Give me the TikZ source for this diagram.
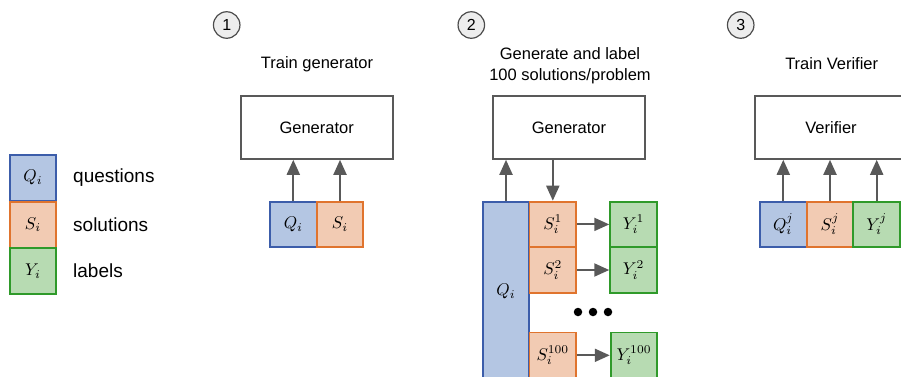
\documentclass[tikz,border=0pt]{standalone}
\usepackage{fontspec}
\usepackage{graphicx}
\setmainfont{Liberation Sans}
\usetikzlibrary{arrows.meta}
\definecolor{qfill}{HTML}{B4C6E3}
\definecolor{qdraw}{HTML}{3C5DAA}
\definecolor{sfill}{HTML}{F2CBB3}
\definecolor{sdraw}{HTML}{E0742E}
\definecolor{yfill}{HTML}{B7DBB2}
\definecolor{ydraw}{HTML}{2F9A2A}
\definecolor{arrgray}{HTML}{595959}
\newcommand{\mlab}[1]{\scalebox{1.7}{$#1$}}
\begin{document}
\begin{tikzpicture}[x=1pt,y=-1pt,
  txt/.style={font=\fontsize{16.5}{21}\selectfont, inner sep=0pt, align=center},
  legtxt/.style={font=\fontsize{19}{22}\selectfont, inner sep=0pt, anchor=west},
  cell/.style={rectangle, inner sep=0pt, minimum width=46.7pt, minimum height=45.6pt, line width=1.8pt},
  qbox/.style={cell, fill=qfill, draw=qdraw},
  sbox/.style={cell, fill=sfill, draw=sdraw},
  ybox/.style={cell, fill=yfill, draw=ydraw},
  model/.style={rectangle, draw=arrgray, line width=1.6pt, fill=white, minimum width=152pt, minimum height=63pt, inner sep=0pt, font=\fontsize{16.5}{21}\selectfont},
  numcirc/.style={circle, draw=black!70, fill=black!7, line width=1.2pt, minimum size=26.5pt, inner sep=0pt, font=\fontsize{16}{18}\selectfont},
  arr/.style={draw=arrgray, line width=2pt, -{Triangle[length=15pt,width=13pt]}},
  dot/.style={circle, fill=black, minimum size=8.5pt, inner sep=0pt}
]
\useasboundingbox (0,0) rectangle (901,376);
\clip (0,0) rectangle (901,376);

% legend
\node[qbox] (lq) at (33,177.7) {\mlab{Q_i}};
\node[sbox] (ls) at (33,224.6) {\mlab{S_i}};
\node[ybox] (ly) at (33,271) {\mlab{Y_i}};
\node[legtxt] (lqt) at (73,178) {questions};
\node[legtxt] (lst) at (73,225) {solutions};
\node[legtxt] (lyt) at (73,271) {labels};

% section 1
\node[numcirc] (c1) at (226.7,25) {1};
\node[txt] (t1) at (317,64) {Train generator};
\node[model] (g1) at (316.7,127.5) {Generator};
\node[qbox] (q1) at (293.3,224.4) {\mlab{Q_i}};
\node[sbox] (s1) at (340,224.4) {\mlab{S_i}};
\draw[arr] (q1.north) -- (g1.south -| q1.north);
\draw[arr] (s1.north) -- (g1.south -| s1.north);

% section 2
\node[numcirc] (c2) at (471.3,25) {2};
\node[txt] (t2) at (570,66) {Generate and label\\100 solutions/problem};
\node[model] (g2) at (569,127.5) {Generator};
\node[qbox, minimum height=180pt] (q2) at (506,291.7) {\mlab{Q_i}};
\node[sbox] (s21) at (552.8,224.4) {\mlab{S_i^1}};
\node[sbox] (s22) at (552.8,270) {\mlab{S_i^2}};
\node[sbox] (s23) at (552.8,355.3) {\mlab{S_i^{100}}};
\node[ybox] (y21) at (633.5,224.4) {\mlab{Y_i^1}};
\node[ybox] (y22) at (633.5,270) {\mlab{Y_i^2}};
\node[ybox] (y23) at (634,355.3) {\mlab{Y_i^{100}}};
\draw[arr] (q2.north) -- (g2.south -| q2.north);
\draw[arr] (g2.south -| s21.north) -- (s21.north);
\draw[arr] (s21.east) -- (y21.west);
\draw[arr] (s22.east) -- (y22.west);
\draw[arr] (s23.east) -- (y23.west);
\node[dot] (d1) at (578,312) {};
\node[dot] (d2) at (593,312) {};
\node[dot] (d3) at (608,312) {};

% section 3
\node[numcirc] (c3) at (740.7,25) {3};
\node[txt] (t3) at (831.7,64) {Train Verifier};
\node[model] (v3) at (831,127.5) {Verifier};
\node[qbox] (q3) at (783.3,224.4) {\mlab{Q_i^j}};
\node[sbox] (s3) at (830,224.4) {\mlab{S_i^j}};
\node[ybox] (y3) at (876.7,224.4) {\mlab{Y_i^j}};
\draw[arr] (q3.north) -- (v3.south -| q3.north);
\draw[arr] (s3.north) -- (v3.south -| s3.north);
\draw[arr] (y3.north) -- (v3.south -| y3.north);
\end{tikzpicture}
\end{document}
